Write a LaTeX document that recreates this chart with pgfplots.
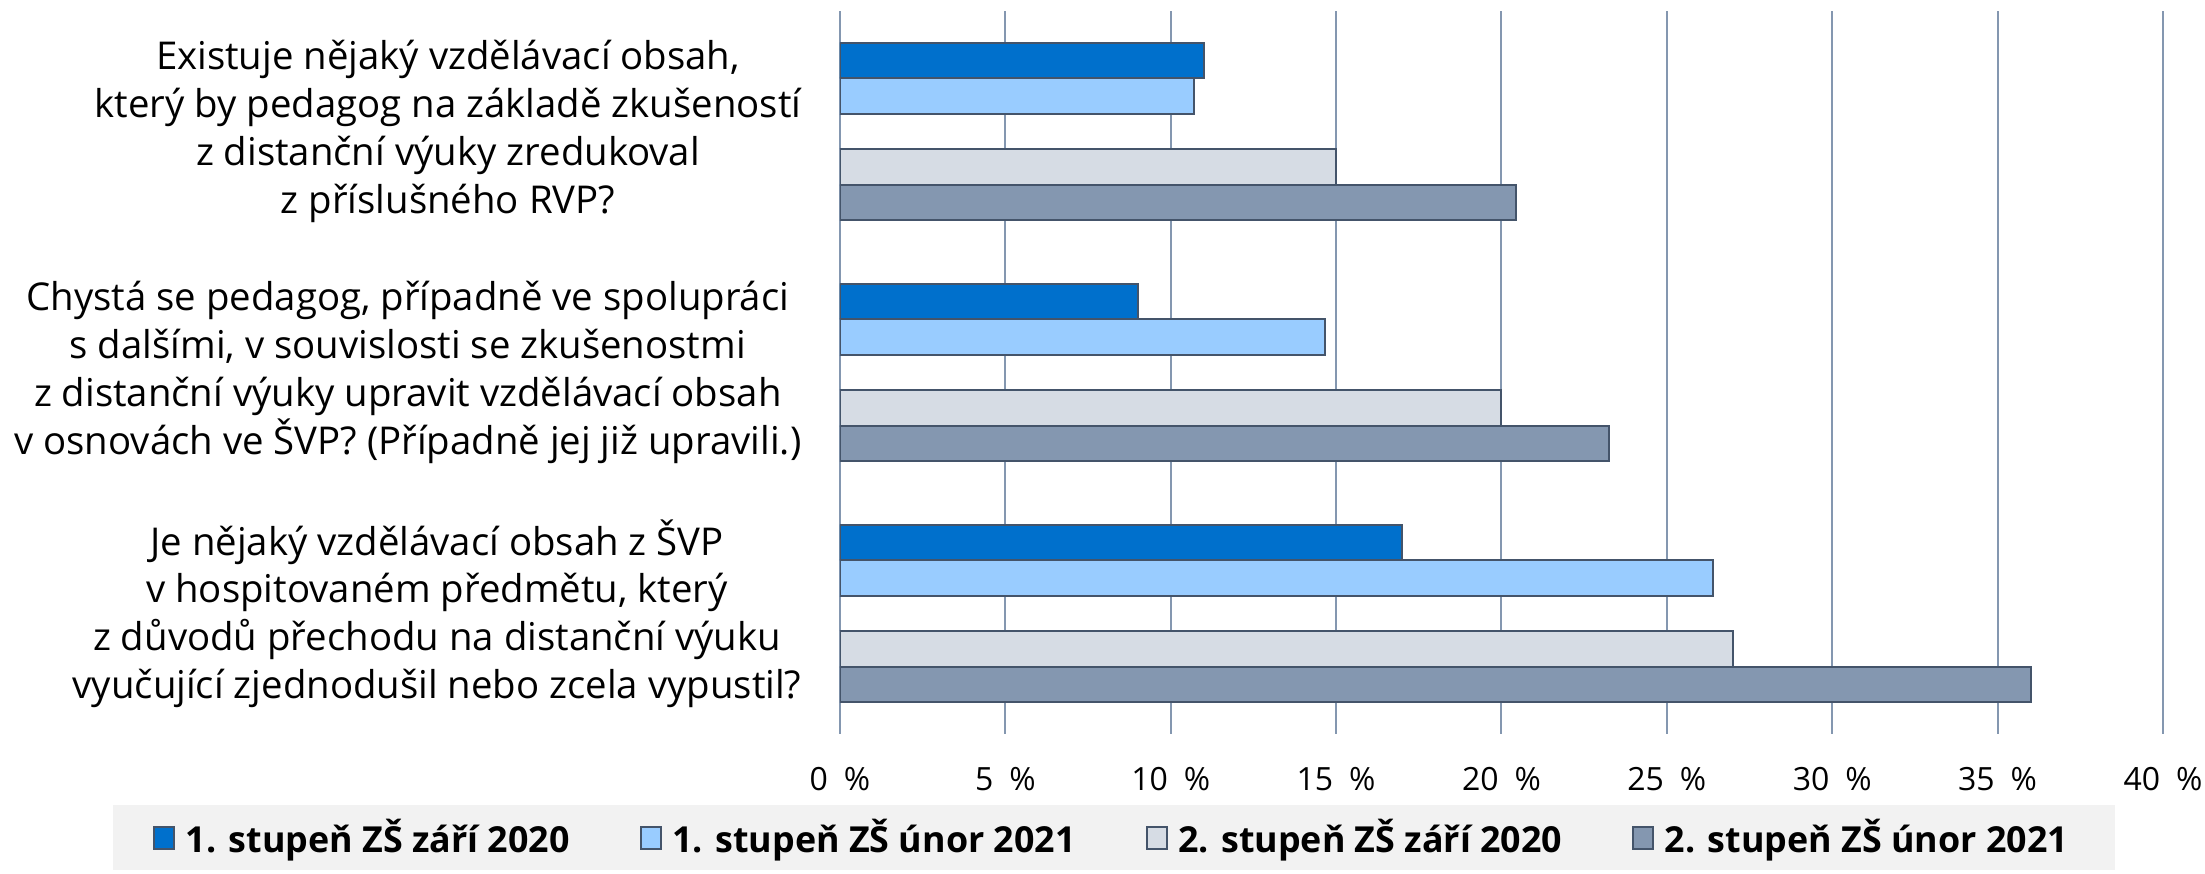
\documentclass[border=0pt]{standalone}
\usepackage{pgfplots}
\pgfplotsset{compat=1.18}
\usepackage{fontspec}
\setmainfont{Open Sans}

\definecolor{c1}{HTML}{0070CC}
\definecolor{c2}{HTML}{99CCFF}
\definecolor{c3}{HTML}{D6DCE4}
\definecolor{c4}{HTML}{8497B0}
\definecolor{edge}{HTML}{44546A}
\definecolor{gridc}{HTML}{8497B0}
\definecolor{legbg}{HTML}{F2F2F2}

\begin{document}
\begin{tikzpicture}[x=0.3pt,y=-0.3pt]
  \path[use as bounding box] (0,0) rectangle (2205,874);
  \begin{axis}[
    at={(252pt,-220.2pt)}, anchor=south west,
    scale only axis,
    width=396.9pt, height=216.9pt,
    xbar,
    bar width=0.1473,
    xmin=0, xmax=40,
    ymin=-0.5, ymax=2.5,
    y dir=reverse,
    xtick={0,5,...,40},
    ytick={0,1,2},
    yticklabels={
      {Existuje nějaký vzdělávací obsah,\\který by pedagog na základě zkušeností\\z distanční výuky zredukoval\\z příslušného RVP?},
      {Chystá se pedagog, případně ve spolupráci\\s dalšími, v souvislosti se zkušenostmi\\z distanční výuky upravit vzdělávací obsah\\v osnovách ve ŠVP? (Případně jej již upravili.)},
      {Je nějaký vzdělávací obsah z ŠVP\\v hospitovaném předmětu, který\\z důvodů přechodu na distanční výuku\\vyučující zjednodušil nebo zcela vypustil?}},
    yticklabel style={anchor=east, inner sep=0pt, xshift=-11.4pt, align=center,
      font=\fontsize{11.5}{14.34}\selectfont},
    xticklabel={\pgfmathprintnumber[assume math mode=true]{\tick}\hspace{0.5em}\%},
    xticklabel style={anchor=base, inner sep=0pt, yshift=-17.1pt,
      font=\fontsize{9.6}{11}\selectfont},
    xmajorgrids,
    grid style={gridc, line width=0.6pt},
    axis line style={draw=none},
    major tick length=0pt,
    legend columns=4,
    legend style={at={(0.2071,-0.1438)}, anchor=center, fill=legbg, draw=none,
      font=\bfseries\fontsize{10.75}{12}\selectfont,
      inner xsep=12pt, inner ysep=2pt,
      /tikz/every odd column/.append style={column sep=1.2pt},
      /tikz/every even column/.append style={column sep=19pt}},
    legend image code/.code={\draw[#1, draw=edge, line width=0.6pt] (0pt,-3.3pt) rectangle (6pt,3.3pt);},
    every axis plot/.append style={draw=edge, line width=0.6pt},
  ]
    \addplot[fill=c1, bar shift=-0.2946] coordinates {(11.0,0) (9.0,1) (17.0,2)};
    \addplot[fill=c2, bar shift=-0.1473] coordinates {(10.7,0) (14.65,1) (26.4,2)};
    \addplot[fill=c3, bar shift=0.1473] coordinates {(15.0,0) (20.0,1) (27.0,2)};
    \addplot[fill=c4, bar shift=0.2946] coordinates {(20.45,0) (23.25,1) (36.0,2)};
    \legend{1. stupeň ZŠ září 2020, 1. stupeň ZŠ únor 2021, 2. stupeň ZŠ září 2020, 2. stupeň ZŠ únor 2021}
  \end{axis}
\end{tikzpicture}
\end{document}
